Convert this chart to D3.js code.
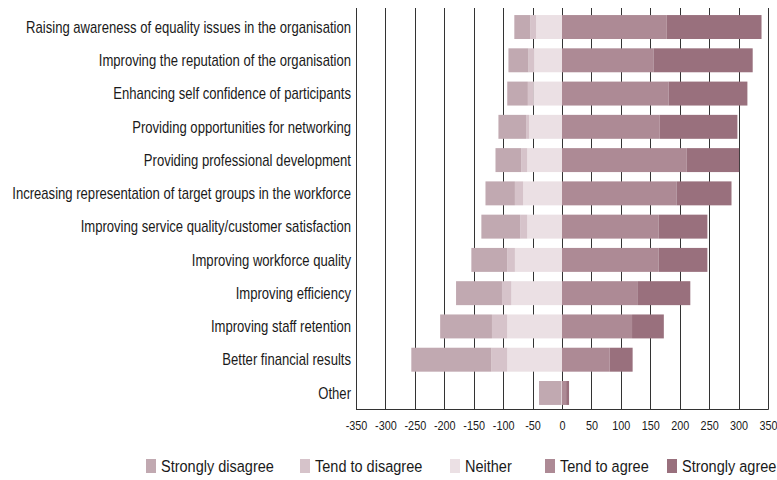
<!DOCTYPE html>
<html><head><meta charset="utf-8">
<script src="https://cdn.jsdelivr.net/npm/d3@7"></script>
<style>
body{margin:0;background:#fff;}
svg{display:block;font-family:"Liberation Sans",Arial,sans-serif;}
</style></head>
<body><svg id="c" width="777" height="480"></svg>
<script>
const categories = [
  "Raising awareness of equality issues in the organisation",
  "Improving the reputation of the organisation",
  "Enhancing self confidence of participants",
  "Providing opportunities for networking",
  "Providing professional development",
  "Increasing representation of target groups in the workforce",
  "Improving service quality/customer satisfaction",
  "Improving workforce quality",
  "Improving efficiency",
  "Improving staff retention",
  "Better financial results",
  "Other"
];
const seriesNames = ["Strongly disagree","Tend to disagree","Neither","Tend to agree","Strongly agree"];
const stronglyDisagree = [27, 34, 35, 47, 44, 50, 66, 61, 78, 88, 136, 38];
const tendToDisagree   = [10, 10,  9,  5, 10, 14, 12, 13, 16, 26,  27,  0];
const neither          = [44, 47, 49, 56, 59, 66, 59, 80, 86, 93,  93,  1];
const tendToAgree      = [178,156,181,166,212,195,164,164,129,119, 81,  7];
const stronglyAgree    = [161,168,134,132, 89, 93, 83, 83, 89, 54, 39,  5];
const tickValues = [-350,-300,-250,-200,-150,-100,-50,0,50,100,150,200,250,300,350];
const tickLabels = ["-350","-300","-250","-200","-150","-100","-50","0","50","100","150","200","250","300","350"];
const colors = ["#c1a9b1","#d6c3ca","#ebe0e4","#ad8a95","#99707d"];

const svg = d3.select("#c");
const x = d3.scaleLinear().domain([-350,350]).range([356,768]);
const y = d3.scaleBand().domain(categories).range([10.4,409.6]).paddingInner(0.28).paddingOuter(0.14);

function measure(str, size){
  const t = svg.append("text").attr("font-size",size).text(str);
  const w = t.node().getComputedTextLength(); t.remove(); return w;
}
const catSize = 16, tickSize = 12.5, legSize = 17;
const fCat = 325 / measure(categories[0], catSize);
const fTick = 21.7 / measure("-350", tickSize);
const fLeg = 113 / measure("Strongly disagree", legSize);

// gridlines
svg.append("g").selectAll("line").data(tickValues).join("line")
  .attr("x1",d=>Math.round(x(d))+0.5).attr("x2",d=>Math.round(x(d))+0.5)
  .attr("y1",8).attr("y2",409.5)
  .attr("stroke","#333").attr("stroke-width",1);

// bars
const rows = categories.map((c,i)=>({c, v:[stronglyDisagree[i],tendToDisagree[i],neither[i],tendToAgree[i],stronglyAgree[i]]}));
const segs = [];
rows.forEach(r=>{
  const n0 = -r.v[2];
  segs.push({c:r.c,s:2,a:n0,b:0});
  const t0 = n0 - r.v[1];
  segs.push({c:r.c,s:1,a:t0,b:n0});
  segs.push({c:r.c,s:0,a:t0 - r.v[0],b:t0});
  segs.push({c:r.c,s:3,a:0,b:r.v[3]});
  segs.push({c:r.c,s:4,a:r.v[3],b:r.v[3]+r.v[4]});
});
svg.append("g").selectAll("rect").data(segs.filter(d=>d.b>d.a)).join("rect")
  .attr("x",d=>x(d.a)).attr("width",d=>x(d.b)-x(d.a))
  .attr("y",d=>y(d.c)).attr("height",y.bandwidth())
  .attr("fill",d=>colors[d.s]);

// axis line
svg.append("line").attr("x1",356).attr("x2",768.5).attr("y1",409.5).attr("y2",409.5).attr("stroke","#333");

// x tick labels
const xAxis = d3.axisBottom(x).tickValues(tickValues).tickSize(0).tickPadding(0)
  .tickFormat((d,i)=>tickLabels[i]);
const gx = svg.append("g").attr("transform","translate(0,409)").call(xAxis);
gx.select(".domain").remove();
gx.selectAll("text").attr("font-size",tickSize).attr("fill","#1a1a1a")
  .attr("font-family","'Liberation Sans',sans-serif")
  .attr("y",21.5).attr("dy",0)
  .attr("transform",`scale(${fTick},1)`);

// category labels
const yAxis = d3.axisLeft(y).tickSize(0).tickPadding(0);
const gy = svg.append("g").attr("transform","translate(351,0)").call(yAxis);
gy.select(".domain").remove();
gy.selectAll("text").attr("font-size",catSize).attr("fill","#1a1a1a")
  .attr("font-family","'Liberation Sans',sans-serif")
  .attr("x",0).attr("dy","0.36em")
  .attr("transform",`scale(${fCat},1)`);

// legend
const legX = [146,300,450,545,667];
const lg = svg.append("g").selectAll("g").data(seriesNames).join("g")
  .attr("transform",(d,i)=>`translate(${legX[i]},459)`);
lg.append("rect").attr("width",10).attr("height",14).attr("fill",(d,i)=>colors[i]);
lg.append("text").attr("transform",`translate(15,13) scale(${fLeg},1)`).text(d=>d)
  .attr("font-size",legSize).attr("fill","#1a1a1a");
</script></body></html>
